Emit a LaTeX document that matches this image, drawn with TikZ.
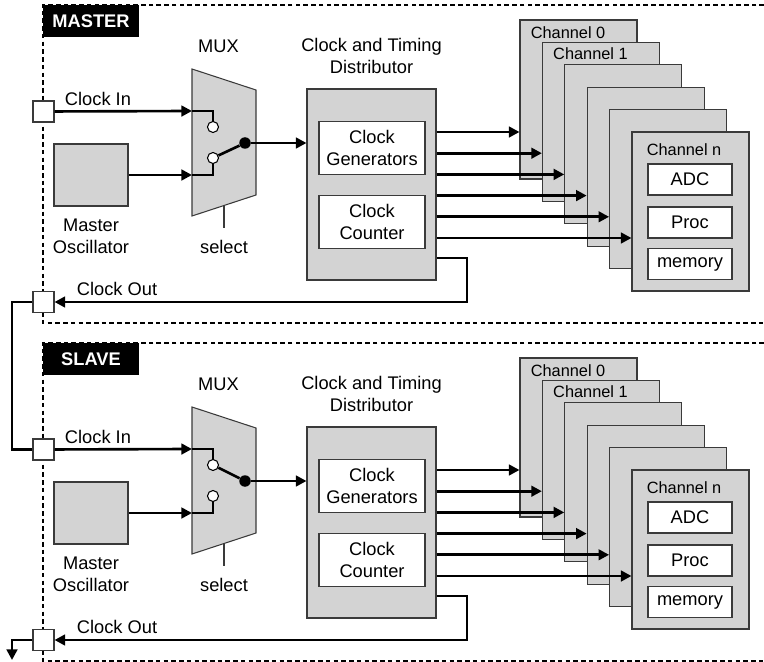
\documentclass[tikz,border=0pt]{standalone}
\usepackage{fontspec}
\setmainfont{Liberation Sans}
\usetikzlibrary{arrows.meta,calc}
\definecolor{panel}{HTML}{D3D3D3}
\definecolor{edge}{HTML}{3A3A3A}

\begin{document}
\begin{tikzpicture}[
  x=0.02cm, y=-0.02cm,
  >={Triangle[length=6pt,width=6pt]},
  font=\fontsize{10.4}{12.2}\selectfont,
  wire/.style={line width=1.5pt},
  box/.style={rectangle, draw=edge, line width=.6pt, fill=panel, inner sep=0pt},
  inbox/.style={rectangle, draw=edge, line width=.6pt, fill=white, align=center, inner sep=0pt},
  port/.style={rectangle, draw=edge, line width=.6pt, fill=white, minimum size=4.2mm, inner sep=0pt},
  frame/.style={line width=.6pt, dash pattern=on 2.6pt off 1.8pt},
  tag/.style={rectangle, fill=black, text=white, font=\fontsize{10.4}{12.2}\selectfont\bfseries, minimum width=19.2mm, minimum height=6.4mm, inner sep=0pt},
  contact/.style={circle, draw=black, line width=.6pt, fill=white, minimum size=2.2mm, inner sep=0pt},
  pivot/.style={circle, fill=black, minimum size=2.3mm, inner sep=0pt},
  chan/.style={box, minimum width=23.4mm, minimum height=31.8mm},
  chname/.style={anchor=west, font=\fontsize{9.3}{11}\selectfont, inner sep=0pt},
]
\useasboundingbox (0,0) rectangle (764,662);

% ---------- one unit per section: master on top, slave below ----------
\foreach \pre/\dy/\title/\sw in {m/0/MASTER/2, s/338/SLAVE/1}{
\begin{scope}[shift={(0,\dy)}, name prefix=\pre-]
  \draw[frame] (764,5) -- (43,5) -- (43,323) -- (764,323);
  \node[tag] (tag) at (91,21) {\title};

  % ports and oscillator
  \node[port] (cin)  at (43.5,111.5) {};
  \node[port] (cout) at (43.5,302)   {};
  \node (cinlabel)  at (98,99)   {Clock In};
  \node (coutlabel) at (117,289) {Clock Out};
  \node[box, minimum width=14.8mm, minimum height=12.4mm] (osc) at (91,175) {};
  \node[align=center] (osclabel) at (91,236.5) {Master\\Oscillator};

  % multiplexer
  \draw[draw=edge, line width=.6pt, fill=panel] (192,69) -- (256,90) -- (256,195) -- (192,216) -- cycle;
  \node (muxlabel) at (218.5,46) {MUX};
  \coordinate (in1) at (192,111);
  \coordinate (in2) at (192,175);
  \coordinate (selbase) at (224,205.5);
  \coordinate (seltip)  at (224,228);
  \draw[edge, line width=.6pt] (selbase) -- (seltip);
  \node (sellabel) at (224,247) {select};
  \node[contact] (c1) at (213,127) {};
  \node[contact] (c2) at (213,158) {};
  \node[pivot] (dot) at (245,143) {};

  \draw[wire,->] (cin) -- (in1);
  \draw[wire] (in1) -| (c1);
  \draw[wire,->] (osc) -- (in2);
  \draw[wire] (in2) -| (c2);
  \draw[wire] (c\sw) -- (dot);

  % clock and timing distributor
  \node[align=center] (distlabel) at (371.5,56) {Clock and Timing\\Distributor};
  \node[box, minimum width=25.8mm, minimum height=38.2mm] (dist) at (371.5,184.5) {};
  \node[inbox, minimum width=21.2mm, minimum height=10.6mm] (gen) at (372,148) {Clock\\Generators};
  \node[inbox, minimum width=21.2mm, minimum height=10.6mm] (cnt) at (372,222) {Clock\\Counter};
  \draw[wire,->] (dot) -- (dist.west |- dot);

  % channel stack
  \foreach \i in {0,...,5}
    \node[chan] (ch\i) at (578.5+22.4*\i, 99.5+22.4*\i) {};
  \node[chname] (ch0label) at ($(ch0.north west)+(11,13)$) {Channel 0};
  \node[chname] (ch1label) at ($(ch1.north west)+(11,12)$) {Channel 1};
  \node[chname] (ch5label) at ($(ch5.north west)+(15,18)$) {Channel n};
  \node[inbox, minimum width=16.8mm, minimum height=6.2mm] (adc)  at (690,179.5) {ADC};
  \node[inbox, minimum width=16.8mm, minimum height=6.2mm] (proc) at (690,222.5) {Proc};
  \node[inbox, minimum width=16.8mm, minimum height=6.2mm] (mem)  at (690,264)   {memory};

  \foreach \i [evaluate=\i as \y using 132+21.2*\i] in {0,...,5}
    \draw[wire,->] (dist.east |- 0,\y) -- (ch\i.west |- 0,\y);

  % clock out feedback
  \draw[wire,->] (dist.east |- 0,258) -- (467,258) |- (cout);
\end{scope}
}

% ---------- daisy chain ----------
\draw[wire] (m-cout) -- (12,302) |- (s-cin);
\coordinate (onward) at (12,660);
\draw[wire,->] (s-cout) -| (onward);

\end{tikzpicture}
\end{document}
